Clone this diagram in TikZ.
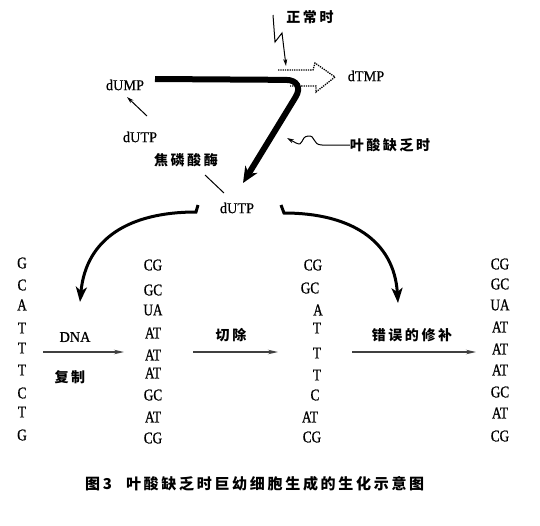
\documentclass[tikz,border=0pt]{standalone}
\usepackage{fontspec}
\setmainfont{Liberation Serif}[FakeStretch=0.95, FakeBold=0.6]
\newfontfamily\colfont{Liberation Serif}[FakeStretch=0.8, FakeBold=0.8]
\newfontfamily\cjk[LetterSpace=18]{Noto Sans CJK SC}
\newfontfamily\cjkcap[LetterSpace=18]{Noto Sans CJK SC}
\usetikzlibrary{arrows.meta}
\tikzset{
  lat/.style={font=\fontsize{15}{15}\selectfont, inner sep=0pt},
  base/.style={font=\colfont\fontsize{16.5}{16.5}\selectfont, inner sep=0pt},
  cn/.style={font=\cjk\bfseries\fontsize{14}{14}\selectfont, inner sep=0pt},
  thinarrow/.style={draw=black!75, line width=1.2pt, -{Stealth[length=10pt,width=4.5pt]}},
  smallarrow/.style={line width=1pt, -{Stealth[length=7pt,width=4pt]}},
  bigcurve/.style={line width=3pt, -{Stealth[length=15pt,width=11pt,inset=4pt]}},
  mainpath/.style={line width=6pt, rounded corners=20pt, -{Stealth[length=16pt,width=14pt,inset=5pt]}},
  hollow/.style={densely dotted, line width=1.3pt}
}
\begin{document}
\begin{tikzpicture}[x=1pt,y=-1pt]
\useasboundingbox[fill=white] (0,0) rectangle (540,525);

% top labels
\node[cn] (normal) at (310,17) {正常时};
\node[lat] (dTMP) at (366,76) {dTMP};
\node[lat] (dUMP) at (125,85) {dUMP};
\node[lat] (dUTP1) at (140,137) {dUTP};
\node[cn] (folate) at (390,145) {叶酸缺乏时};
\node[cn] (ppase) at (186,160) {焦磷酸酶};
\node[lat] (dUTP2) at (237,208) {dUTP};

% main thick pathway
\coordinate (ms) at (155,79);
\coordinate (mc) at (306,80);
\coordinate (me) at (243,183);
\draw[mainpath] (ms) -- (mc) -- (me);

% dotted hollow arrow to dTMP
\draw[hollow] (278,70) -- (313,70) -- (315,63) -- (335,77) -- (316,92) -- (316,86) -- (290,86);

% lightning arrow from normal
\coordinate (n1) at (273,15);
\coordinate (n2) at (275,42);
\coordinate (n3) at (282,33);
\coordinate (n4) at (286,66);
\draw[smallarrow] (n1) -- (n2) -- (n3) -- (n4);

% squiggle arrow from folate deficiency
\coordinate (f4) at (287,138);
\draw[smallarrow] (folate.west) -- (322,145) .. controls (312,145) and (316,135) .. (308,136) .. controls (300,137) and (304,147) .. (296,143) -- (f4);

% dUTP -> dUMP
\coordinate (u1) at (147,116);
\coordinate (u2) at (127,97);
\draw[smallarrow] (u1) -- (u2);

% pyrophosphatase line
\coordinate (p1) at (205,175);
\coordinate (p2) at (224,193);
\draw[line width=1pt] (p1) -- (p2);

% curved arrows
\coordinate (lt) at (80,302);
\coordinate (rt) at (398,303);
\draw[bigcurve] (198,205) -- (196,212) .. controls (130,212) and (86,238) .. (lt);
\draw[bigcurve] (281,205) -- (284,213) .. controls (350,213) and (394,240) .. (rt);

% columns
\foreach \t/\y [count=\i] in {G/263,C/285,A/305,T/328,T/348,T/370,C/393,T/412,G/435}
  \node[base] (a\i) at (22,\y) {\t};
\foreach \t/\y [count=\i] in {CG/265,GC/290,UA/310,AT/333,AT/355,AT/373,GC/395,AT/417,CG/438}
  \node[base] (b\i) at (153,\y) {\t};
\foreach \t/\x/\y [count=\i] in {CG/313/265,GC/310/288,A/318/310,T/317/328,T/317/353,T/317/375,C/315/395,AT/310/417,CG/312/437}
  \node[base] (c\i) at (\x,\y) {\t};
\foreach \t/\y [count=\i] in {CG/264,GC/284,UA/305,AT/327,AT/349,AT/370,GC/392,AT/413,CG/436}
  \node[base] (d\i) at (500,\y) {\t};

% horizontal steps
\node[lat] (dna) at (75,337) {DNA};
\node[cn] (rep) at (70,377) {复制};
\node[cn] (cut) at (231,335) {切除};
\node[cn] (fix) at (412,335) {错误的修补};
\coordinate (h1s) at (43,352);
\coordinate (h1e) at (124,352);
\coordinate (h2s) at (193,352);
\coordinate (h2e) at (278,352);
\coordinate (h3s) at (352,352);
\coordinate (h3e) at (476,352);
\draw[thinarrow] (h1s) -- (h1e);
\draw[thinarrow] (h2s) -- (h2e);
\draw[thinarrow] (h3s) -- (h3e);

% caption
\node[font=\cjkcap\bfseries\fontsize{15}{15}\selectfont, inner sep=0pt, anchor=west] (cap) at (85,484) {图3\hspace{14pt}叶酸缺乏时巨幼细胞生成的生化示意图};
\end{tikzpicture}
\end{document}
